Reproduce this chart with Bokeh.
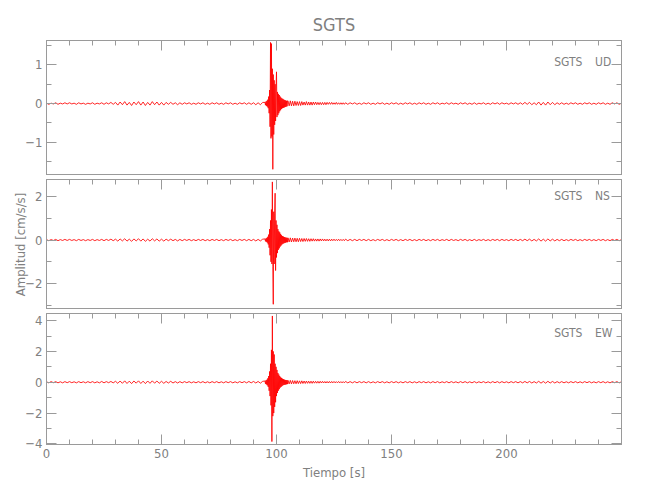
import numpy as np
from bokeh.plotting import figure
from bokeh.layouts import column
from bokeh.models import Range1d, LinearAxis, FixedTicker, Label, CustomLabelingPolicy
from bokeh.embed import file_html
from bokeh.resources import INLINE

# ---------------- data ----------------
station = "SGTS"
components = ["UD", "NS", "EW"]
x_ticks = [0, 50, 100, 150, 200]
x_minor = list(range(0, 251, 10))

# sampling grid (s)
t_pre = np.arange(0, 95, 1.0)          # 0 .. 94
t_ev = 95.0 + 0.2 * np.arange(50)      # 95 .. 104.8
t_coda = 105.0 + 0.5 * np.arange(50)   # 105 .. 129.5
t_post = np.arange(130, 251, 1.0)      # 130 .. 250

# amplitudes in units of 0.01 cm/s/s
ud_pre = [1, -2, 1, -1, 2, -2, 1, -1, 2, -1,
          2, -1, 1, -2, 2, -1, 1, -2, 1, -1,
          2, -2, 1, -1, 2, -2, 2, -1, 3, -2,
          3, -4, 4, -3, 5, -4, 3, -5, 4, -3,
          5, -4, 4, -5, 3, -4, 5, -3, 4, -4,
          3, -4, 3, -2, 3, -2, 2, -3, 2, -2,
          2, -1, 2, -2, 1, -2, 2, -1, 2, -2,
          1, -2, 2, -1, 2, -2, 1, -2, 2, -1,
          2, -2, 1, -2, 2, -1, 2, -2, 2, -2,
          2, -3, 2, -3, 3]
ud_ev = [3, -4, 5, -6, 7, -8, 10, -12, 18, -25,
         35, -60, 158, -90, 155, -85, 90, -170, 75, -80,
         60, -55, 50, -45, 40, 82, -35, 30, -30, 25,
         -25, 22, -20, 18, -17, 15, -14, 13, -12, 12,
         -11, 10, -10, 9, -9, 8, -8, 7, -7, 7]
ud_coda = [7, -6, 7, -6, 6, -6, 6, -5, 5, -5,
           5, -5, 5, -4, 4, -4, 5, -4, 4, -4,
           4, -4, 4, -3, 4, -3, 3, -3, 3, -3,
           3, -3, 3, -3, 3, -2, 3, -2, 3, -2,
           2, -2, 3, -2, 2, -2, 2, -2, 2, -2]
ud_post = [2, -2, 2, -1, 2, -2, 1, -2, 2, -1,
           2, -2, 1, -2, 2, -1, 2, -2, 1, -2,
           2, -1, 2, -2, 1, -2, 2, -1, 2, -2,
           1, -2, 2, -1, 2, -2, 1, -2, 2, -1,
           2, -2, 1, -1, 2, -2, 2, -1, 1, -2,
           2, -1, 2, -2, 1, -2, 2, -2, 1, -1,
           2, -2, 1, -2, 2, -1, 2, -2, 2, -1,
           1, -2, 2, -1, 2, -2, 2, -2, 3, -2,
           3, -3, 2, -3, 4, -4, 3, -4, 4, -3,
           3, -3, 2, -2, 2, -2, 1, -2, 2, -1,
           2, -2, 1, -2, 2, -1, 2, -2, 1, -2,
           2, -1, 2, -2, 1, -2, 2, -1, 2, -2,
           1]

ns_pre = [2, -3, 2, -2, 3, -3, 2, -2, 3, -2,
          3, -2, 2, -3, 3, -2, 2, -3, 2, -2,
          3, -3, 2, -2, 3, -3, 3, -2, 4, -3,
          4, -5, 5, -4, 6, -5, 4, -6, 5, -4,
          6, -5, 5, -6, 4, -5, 6, -4, 5, -5,
          4, -5, 4, -3, 4, -3, 3, -4, 3, -3,
          3, -2, 3, -3, 2, -3, 3, -2, 3, -3,
          2, -3, 3, -2, 3, -3, 2, -3, 3, -2,
          3, -3, 2, -3, 3, -2, 3, -3, 3, -3,
          3, -4, 3, -4, 4]
ns_ev = [5, -6, 7, -8, 10, -12, 15, -20, 25, -35,
         50, -70, 90, -100, 140, -110, 267, -120, -295, 130,
         -110, 120, 215, -140, 90, -80, 70, -60, 50, -45,
         40, -38, 35, -30, 28, -25, 22, -20, 18, -17,
         16, -15, 14, -13, 12, -12, 11, -10, 10, -10]
ns_coda = [10, -9, 10, -9, 9, -8, 9, -8, 8, -8,
           8, -7, 7, -7, 7, -6, 7, -6, 6, -6,
           6, -5, 6, -5, 5, -5, 5, -5, 5, -4,
           5, -4, 4, -4, 4, -4, 4, -4, 4, -3,
           4, -3, 3, -3, 4, -3, 3, -3, 3, -3]
ns_post = [4, -3, 3, -3, 3, -3, 3, -2, 3, -3,
           3, -3, 2, -3, 3, -2, 3, -3, 2, -3,
           3, -2, 3, -3, 2, -3, 3, -2, 3, -3,
           2, -3, 3, -2, 3, -3, 2, -3, 3, -2,
           3, -3, 2, -2, 3, -3, 3, -2, 2, -3,
           3, -2, 3, -3, 2, -3, 3, -3, 2, -2,
           3, -3, 2, -3, 3, -2, 3, -3, 3, -2,
           2, -3, 3, -2, 3, -3, 3, -3, 4, -3,
           4, -4, 3, -4, 5, -5, 4, -5, 5, -4,
           4, -4, 3, -3, 3, -3, 2, -3, 3, -2,
           3, -3, 2, -3, 3, -2, 3, -3, 2, -3,
           3, -2, 3, -3, 2, -3, 3, -2, 3, -3,
           2]

ew_pre = [3, -4, 4, -3, 4, -4, 3, -4, 4, -3,
          4, -3, 3, -4, 4, -3, 3, -4, 4, -3,
          4, -4, 3, -4, 5, -4, 4, -3, 5, -4,
          6, -7, 8, -7, 9, -8, 7, -9, 8, -6,
          9, -8, 7, -9, 8, -7, 9, -6, 8, -7,
          6, -7, 5, -5, 6, -5, 4, -5, 4, -4,
          4, -3, 4, -4, 3, -4, 4, -3, 4, -4,
          3, -4, 4, -3, 4, -4, 3, -4, 4, -3,
          4, -4, 3, -4, 4, -3, 4, -4, 5, -4,
          5, -5, 5, -6, 6]
ew_ev = [8, -10, 12, -14, 16, -20, 25, -30, 40, -55,
         70, -90, 120, -150, 210, -385, 430, -220, 200, -200,
         180, -160, 120, -130, 100, -90, 80, -70, 60, -55,
         50, -45, 40, -35, 32, -30, 28, -25, 23, -20,
         20, -18, 17, -16, 15, -15, 14, -13, 13, -12]
ew_coda = [12, -11, 12, -11, 11, -10, 10, -10, 10, -9,
           9, -9, 9, -8, 8, -8, 8, -7, 7, -7,
           7, -7, 7, -6, 6, -6, 6, -6, 6, -5,
           6, -5, 5, -5, 5, -5, 5, -5, 5, -4,
           5, -4, 4, -4, 5, -4, 4, -4, 4, -4]
ew_post = [5, -4, 4, -4, 4, -4, 4, -3, 4, -4,
           4, -4, 3, -4, 4, -3, 4, -4, 3, -4,
           4, -3, 4, -4, 3, -4, 4, -3, 4, -4,
           3, -4, 4, -3, 4, -4, 3, -4, 4, -3,
           4, -4, 3, -3, 4, -4, 4, -3, 3, -4,
           4, -3, 4, -4, 3, -4, 4, -4, 3, -3,
           4, -4, 3, -4, 4, -3, 4, -4, 4, -3,
           3, -4, 4, -3, 4, -4, 4, -4, 5, -4,
           5, -5, 4, -5, 6, -6, 5, -6, 6, -5,
           5, -5, 4, -4, 4, -4, 3, -4, 4, -3,
           4, -4, 3, -4, 4, -3, 4, -4, 3, -4,
           4, -3, 4, -4, 3, -4, 4, -3, 4, -4,
           3]

y_limits = {"UD": (-1.86, 1.63), "NS": (-3.19, 2.78), "EW": (-4.04, 4.46)}
y_major = {"UD": [-1, 0, 1], "NS": [-2, 0, 2], "EW": [-4, -2, 0, 2, 4]}
y_minor = {"UD": [-1.5, -0.5, 0.5, 1.5], "NS": [-3, -1, 1], "EW": [-3, -1, 1, 3]}
label_y = {"UD": 1.08, "NS": 2.0, "EW": 3.2}

t_all = np.concatenate([t_pre, t_ev, t_coda, t_post])
traces = {
    "UD": 0.01 * np.concatenate([ud_pre, ud_ev, ud_coda, ud_post]),
    "NS": 0.01 * np.concatenate([ns_pre, ns_ev, ns_coda, ns_post]),
    "EW": 0.01 * np.concatenate([ew_pre, ew_ev, ew_coda, ew_post]),
}
for k in traces:
    assert len(traces[k]) == len(t_all), (k, len(traces[k]), len(t_all))

# ---------------- styling ----------------
FONT = "'Liberation Sans Narrow', 'DejaVu Sans Condensed', Roboto, sans-serif"
GRAY = "#808080"
LINE_GRAY = "#9a9a9a"
TRACE = "#ff0000"

x_range = Range1d(0, 250)


def style_axis(ax, ticks, minor, show_labels):
    ax.ticker = FixedTicker(ticks=ticks, minor_ticks=minor)
    ax.axis_line_color = LINE_GRAY
    ax.major_tick_line_color = LINE_GRAY
    ax.minor_tick_line_color = LINE_GRAY
    ax.major_tick_in = 10
    ax.major_tick_out = 0
    ax.minor_tick_in = 5
    ax.minor_tick_out = 0
    ax.major_label_text_font = FONT
    ax.major_label_text_color = GRAY
    ax.axis_label_text_font = FONT
    ax.axis_label_text_color = GRAY
    ax.axis_label_text_font_style = "normal"
    if show_labels:
        ax.major_label_text_font_size = "13px"
        ax.major_label_standoff = 4
    else:
        ax.major_label_text_font_size = "1px"
        ax.major_label_standoff = 0
        ax.major_label_policy = CustomLabelingPolicy(
            code="for (const i of Array.from(indices)) indices.unset(i)")


figs = []
n = len(components)
for i, comp in enumerate(components):
    first = i == 0
    last = i == n - 1
    if first:
        height, top, bottom = 175, 40, 0
    elif last:
        height, top, bottom = 180, 0, 45
    else:
        height, top, bottom = 134, 0, 0
    p = figure(width=636, height=height, x_range=x_range,
               y_range=Range1d(*y_limits[comp]),
               output_backend="svg", toolbar_location=None,
               x_axis_location=None, y_axis_location=None,
               min_border_left=46, min_border_right=15,
               min_border_top=top, min_border_bottom=bottom)
    p.xgrid.visible = False
    p.ygrid.visible = False
    p.outline_line_color = LINE_GRAY
    p.background_fill_color = "white"
    p.border_fill_color = "white"

    ax_l = LinearAxis()
    style_axis(ax_l, y_major[comp], y_minor[comp], True)
    p.add_layout(ax_l, "left")
    ax_r = LinearAxis()
    style_axis(ax_r, y_major[comp], y_minor[comp], False)
    p.add_layout(ax_r, "right")
    ax_t = LinearAxis()
    style_axis(ax_t, x_ticks, x_minor, False)
    p.add_layout(ax_t, "above")

    if last:
        ax_b = LinearAxis()
        style_axis(ax_b, x_ticks, x_minor, True)
        ax_b.axis_label = "Tiempo [s]"
        ax_b.axis_label_text_font_size = "13px"
        ax_b.axis_label_standoff = 4
        p.add_layout(ax_b, "below")
    if i == 1:
        ax_l.axis_label = "Amplitud [cm/s/s]"
        ax_l.axis_label_text_font_size = "13px"
        ax_l.axis_label_standoff = -6
    if first:
        p.title.text = station
        p.title.align = "center"
        p.title.text_font = FONT
        p.title.text_font_size = "18px"
        p.title.text_font_style = "normal"
        p.title.text_color = GRAY
        p.title.standoff = 4

    p.line(t_all, traces[comp], line_color=TRACE, line_width=1, line_alpha=0.85)

    p.add_layout(Label(x=233, y=label_y[comp], text=station, text_align="right",
                       text_baseline="middle", text_font=FONT,
                       text_font_size="12px", text_color=GRAY))
    p.add_layout(Label(x=238.5, y=label_y[comp], text=comp, text_align="left",
                       text_baseline="middle", text_font=FONT,
                       text_font_size="12px", text_color=GRAY))
    figs.append(p)

layout = column(*figs, spacing=0)
open("out.html", "w").write(file_html(layout, INLINE))
